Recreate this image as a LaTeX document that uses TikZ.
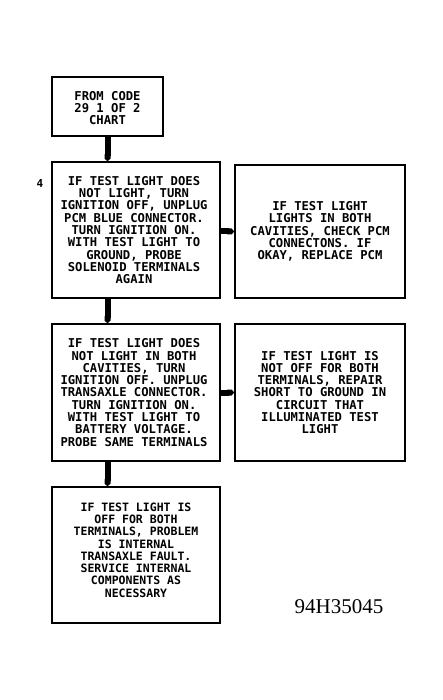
\documentclass[tikz,border=0pt]{standalone}
\usepackage{fontspec}
\setmainfont{Liberation Serif}
\newfontfamily\boxfont{DejaVu Sans Mono}
\usetikzlibrary{arrows.meta}
\tikzset{
  flowbox/.style={draw, line width=1.6pt, inner sep=0pt},
  boxtext/.style={align=center, font=\boxfont\bfseries\fontsize{12.2}{12.3}\selectfont},
  smalltext/.style={align=center, font=\boxfont\bfseries\fontsize{11.5}{12.3}\selectfont},
  flowarrow/.style={line width=6pt, -{Triangle Cap[cap angle=100]}},
}
\begin{document}
\begin{tikzpicture}[x=1pt,y=-1pt]
\useasboundingbox (0,0) rectangle (443,700);
% boxes
\node[flowbox, minimum width=111pt, minimum height=59pt] (b1) at (107.5,106.5) {};
\node[flowbox, minimum width=168pt, minimum height=136pt] (b2) at (136,230) {};
\node[flowbox, minimum width=170pt, minimum height=133pt] (r1) at (320,231.5) {};
\node[flowbox, minimum width=168pt, minimum height=137pt] (b3) at (136,392.5) {};
\node[flowbox, minimum width=170pt, minimum height=137pt] (r2) at (320,392.5) {};
\node[flowbox, minimum width=168pt, minimum height=136pt] (b4) at (136,555) {};
% texts
\node[boxtext] (t1) at ([yshift=-1.5pt]b1.center) {FROM CODE\\29 1 OF 2\\CHART};
\node[boxtext] (t2) at ([xshift=-2pt]b2.center) {IF TEST LIGHT DOES\\NOT LIGHT, TURN\\IGNITION OFF, UNPLUG\\PCM BLUE CONNECTOR.\\TURN IGNITION ON.\\WITH TEST LIGHT TO\\GROUND, PROBE\\SOLENOID TERMINALS\\AGAIN};
\node[boxtext] (t3) at (r1.center) {IF TEST LIGHT\\LIGHTS IN BOTH\\CAVITIES, CHECK PCM\\CONNECTONS. IF\\OKAY, REPLACE PCM};
\node[boxtext] (t4) at ([xshift=-2pt]b3.center) {IF TEST LIGHT DOES\\NOT LIGHT IN BOTH\\CAVITIES, TURN\\IGNITION OFF. UNPLUG\\TRANSAXLE CONNECTOR.\\TURN IGNITION ON.\\WITH TEST LIGHT TO\\BATTERY VOLTAGE.\\PROBE SAME TERMINALS};
\node[boxtext] (t5) at (r2.center) {IF TEST LIGHT IS\\NOT OFF FOR BOTH\\TERMINALS, REPAIR\\SHORT TO GROUND IN\\CIRCUIT THAT\\ILLUMINATED TEST\\LIGHT};
\node[smalltext] (t6) at ([yshift=5pt]b4.center) {IF TEST LIGHT IS\\OFF FOR BOTH\\TERMINALS, PROBLEM\\IS INTERNAL\\TRANSAXLE FAULT.\\SERVICE INTERNAL\\COMPONENTS AS\\NECESSARY};
% labels
\node[font=\boxfont\bfseries\fontsize{11}{11}\selectfont] (n4) at (40,183) {4};
\node[font=\fontsize{21}{21}\selectfont] (code) at (339,607) {94H35045};
% connectors
\draw[flowarrow] (b1.south) -- (b1.south |- b2.north);
\draw[flowarrow] (b1.south |- b2.south) -- (b1.south |- b3.north);
\draw[flowarrow] (b1.south |- b3.south) -- (b1.south |- b4.north);
\draw[flowarrow] (b2.east |- r1.center) -- (r1.west);
\draw[flowarrow] (b3.east) -- (r2.west);
\end{tikzpicture}
\end{document}
